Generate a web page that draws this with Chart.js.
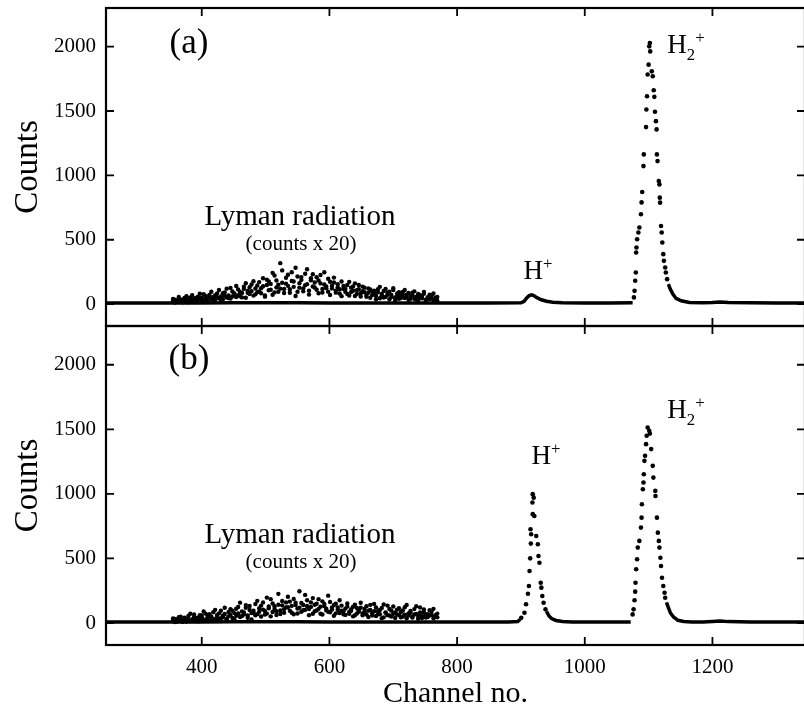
<!DOCTYPE html>
<html>
<head>
<meta charset="utf-8">
<script src="https://cdn.jsdelivr.net/npm/chart.js@4.4.0/dist/chart.umd.min.js"></script>
<style>
  html, body { margin: 0; padding: 0; background: #fff; overflow: hidden; width: 804px; height: 712px; }
  .box { position: absolute; left: 0; width: 810px; }
  #boxA { top: 0; height: 330px; }
  #boxB { top: 318px; height: 394px; }
  .lbl { position: absolute; font-family: 'Liberation Serif', 'Times New Roman', serif; color: #000;
         white-space: nowrap; transform: translate(-50%, -50%); line-height: 1; }
  .lbl sup, .lbl sub { font-size: 62%; }
</style>
</head>
<body>
<div class="box" id="boxA"><canvas id="panelA"></canvas></div>
<div class="box" id="boxB"><canvas id="panelB"></canvas></div>

<div class="lbl" style="left:189px;top:41px;font-size:35px">(a)</div>
<div class="lbl" style="left:300px;top:215px;font-size:29px">Lyman radiation</div>
<div class="lbl" style="left:301px;top:243px;font-size:21px">(counts x 20)</div>
<div class="lbl" style="left:538px;top:270px;font-size:27px">H<sup>+</sup></div>
<div class="lbl" style="left:686px;top:47px;font-size:27px">H<sub>2</sub><sup>+</sup></div>

<div class="lbl" style="left:189px;top:357px;font-size:35px">(b)</div>
<div class="lbl" style="left:300px;top:533px;font-size:29px">Lyman radiation</div>
<div class="lbl" style="left:301px;top:561px;font-size:21px">(counts x 20)</div>
<div class="lbl" style="left:546px;top:455px;font-size:27px">H<sup>+</sup></div>
<div class="lbl" style="left:686px;top:412px;font-size:27px">H<sub>2</sub><sup>+</sup></div>

<script>
const xTicks = [400, 600, 800, 1000, 1200];
const yTicks = [0, 500, 1000, 1500, 2000];

// dense baseline (drawn as a thick line), null = gap under the big peaks
const baseChA = [250,300,350,400,450,500,550,600,650,700,750,800,850,900,905,909,913,917,920,925,932,940,950,965,1000,1040,1075,1090,1131,1134,1138,1143,1151,1164,1185,1200,1212,1225,1260,1300,1345];
const baseA = [8,8,9,9,10,10,10,9,9,9,9,8,8,10,22,48,66,72,66,50,34,22,14,10,9,9,10,null,155,116,78,44,26,13,10,12,17,12,10,9,9];

const baseChB = [250,300,350,400,450,500,550,600,650,700,750,800,850,880,895,899,920,940,944,948,955,965,980,1000,1040,1072,1090,1128,1131,1134,1139,1146,1155,1168,1185,1200,1212,1225,1260,1300,1345];
const baseB = [8,8,9,9,10,10,10,9,9,9,9,8,8,8,12,30,null,90,55,35,20,12,9,8,8,9,null,160,119,80,47,21,12,9,9,12,15,11,9,8,8];

// resolved peak points
const peakChA = [1077,1078,1079,1080,1080.5,1081,1082,1084,1085.5,1088,1089,1090,1092,1092.5,1096,1096.5,1097.5,1098.5,1100,1101,1102,1102.5,1105,1106.5,1108,1109,1110,1111.5,1112.5,1113,1114,1116,1117,1117.5,1118,1119.5,1120.5,1121.5,1123,1124,1126,1127,1129];
const peakA = [52,103,181,246,401,440,504,556,595,698,790,871,1072,1163,1375,1512,1615,1783,1860,2002,2028,1963,1808,1770,1661,1610,1494,1421,1357,1163,1111,956,930,827,788,607,556,478,388,336,284,246,194];

const peakChB = [900.5,905.5,908,911,912.5,913.5,914.5,915.5,916,915,918.5,921,918,918.5,920,924,926.5,927.5,929,931,932,933.5,935.5,938.5,
  1075,1076.5,1078,1079,1079.5,1080.5,1082,1083,1085.5,1088,1089,1089.5,1091,1092,1092.5,1093.5,1094.5,1096,1097,1098.5,1101,1102,1104,1106.5,1107.5,1110.5,1110.8,1113,1114.5,1116,1117,1118.5,1119.5,1121,1123,1125,1126];
const peakB = [41,80,145,227,287,403,501,615,687,726,843,829,933,998,971,674,610,519,467,312,274,209,157,106,
  67,106,176,243,312,416,494,584,636,739,816,920,1036,1088,1152,1256,1295,1385,1450,1514,1488,1467,1347,1217,1126,1023,984,816,700,636,584,506,442,351,287,235,196];

// Lyman radiation region (counts x 20), two readings per channel
const lymanCh = [355,358,361,364,367,370,373,376,379,382,385,388,391,394,397,400,403,406,409,412,415,418,421,424,427,430,433,436,439,442,
  445,448,451,454,457,460,463,466,469,472,475,478,481,484,487,490,493,496,499,502,505,508,511,514,517,520,523,526,529,532,
  535,538,541,544,547,550,553,556,559,562,565,568,571,574,577,580,583,586,589,592,595,598,601,604,607,610,613,616,619,622,
  625,628,631,634,637,640,643,646,649,652,655,658,661,664,667,670,673,676,679,682,685,688,691,694,697,700,703,706,709,712,
  715,718,721,724,727,730,733,736,739,742,745,748,751,754,757,760,763,766,769];
const lymanA = [22,35,18,41,28,15,47,33,25,52,30,44,21,58,37, 49,26,63,40,71,35,55,29,82,46,60,38,91,52,67,
  44,98,72,55,113,61,87,136,49,104,78,152,66,121,93, 171,84,139,58,190,108,157,73,222,130,96,318,166,118,205,
  142,88,247,176,63,214,128,188,99,236,155,74,201,137,168, 112,183,226,90,152,124,197,71,143,168,105,131,82,176,118,
  95,149,67,128,104,161,78,115,59,136,92,71,122,49,98, 84,63,116,45,79,102,56,88,38,71,109,52,83,41,67,
  95,48,74,33,61,88,42,57,29,70,46,81,35,53,40, 66,31,49,27];
const lymanA2 = [40,12,29,55,19,36,24,62,14,38,70,27,48,33,80, 31,77,45,22,58,96,41,69,53,110,34,85,64,120,47,
  126,59,83,141,70,95,52,118,162,88,131,101,178,76,144, 99,124,201,67,148,176,112,243,91,183,150,120,262,86,159,
  228,115,179,134,282,96,163,210,121,147,271,104,185,232,129, 209,84,161,118,248,138,97,174,122,206,89,154,115,62,141,
  118,78,173,94,137,63,109,148,85,101,128,57,89,113,70, 104,37,92,134,66,51,118,73,97,55,124,30,62,92,48,
  72,110,56,87,41,68,99,36,78,52,63,94,28,47,74, 45,83,38,56];
const lymanB = [18,32,12,45,26,9,38,21,55,15,30,67,24,41,19, 58,28,73,36,17,49,84,31,62,25,95,44,70,33,52,
  108,39,77,56,124,47,90,66,139,58,101,28,82,147,69, 115,51,160,93,73,128,185,86,109,62,142,98,171,80,121,
  204,95,133,68,158,112,246,87,140,102,176,61,125,193,91, 150,110,72,168,131,98,212,84,120,57,149,103,78,135,92,
  63,128,85,107,52,142,74,99,118,60,88,131,47,102,76, 148,55,91,69,117,44,83,135,58,96,71,40,104,62,86,
  51,122,38,75,94,47,66,130,33,82,55,105,42,69,58, 90,36,61,44];
const lymanB2 = [35,8,27,16,50,22,41,11,30,72,20,47,36,14,60, 39,90,21,55,68,42,26,102,47,75,38,57,118,29,86,
  63,95,30,111,74,158,55,82,118,41,132,77,96,60,172, 88,135,104,66,197,115,52,152,131,92,226,70,137,108,160,
  122,166,80,187,139,74,118,155,99,218,132,108,160,72,142, 98,185,127,66,147,112,88,163,104,140,75,121,176,96,68,
  112,152,71,95,126,60,117,88,157,74,110,66,96,141,58, 92,120,67,101,38,144,79,61,109,50,128,83,66,115,45,
  97,64,140,59,80,43,108,71,55,121,39,84,66,47,99, 62,110,50,73];

const family = "'Liberation Serif', 'Times New Roman', serif";

function pts(xs, ys) {
  return xs.map((x, i) => ({ x: x, y: ys[i] }));
}

// box frame with inward ticks on all four sides
const framePlugin = {
  id: 'frame',
  afterDatasetsDraw(chart) {
    const { ctx, chartArea: a, scales: { x, y } } = chart;
    ctx.save();
    ctx.strokeStyle = '#000';
    ctx.lineWidth = 2.2;
    ctx.strokeRect(a.left, a.top, a.right - a.left, a.bottom - a.top);
    ctx.lineWidth = 1.8;
    ctx.beginPath();
    xTicks.forEach(v => {
      const px = x.getPixelForValue(v);
      ctx.moveTo(px, a.bottom); ctx.lineTo(px, a.bottom - 8);
      ctx.moveTo(px, a.top); ctx.lineTo(px, a.top + 8);
    });
    yTicks.forEach(v => {
      const py = y.getPixelForValue(v);
      ctx.moveTo(a.left, py); ctx.lineTo(a.left + 8, py);
      ctx.moveTo(a.right, py); ctx.lineTo(a.right - 8, py);
    });
    ctx.stroke();
    ctx.restore();
  }
};

function dots(data, r) {
  return { data: data, pointRadius: r, backgroundColor: '#000', borderWidth: 0 };
}

function makePanel(id, baseCh, base, peakCh, peak, cloud, cloud2, showX) {
  return new Chart(document.getElementById(id), {
    type: 'scatter',
    data: {
      datasets: [
        { type: 'line', data: pts(baseCh, base), borderColor: '#000', borderWidth: 3.5,
          pointRadius: 0, spanGaps: false, tension: 0 },
        dots(pts(lymanCh, cloud), 2.2),
        dots(pts(lymanCh, cloud2), 2.2),
        dots(pts(peakCh, peak), 2.3)
      ]
    },
    options: {
      responsive: true,
      maintainAspectRatio: false,
      animation: false,
      layout: { padding: { top: 8, right: 5, bottom: showX ? 0 : 4, left: 0 } },
      plugins: { legend: { display: false }, tooltip: { enabled: false } },
      scales: {
        x: {
          type: 'linear', min: 250, max: 1345, display: showX,
          grid: { display: false, drawTicks: false }, border: { display: false },
          afterBuildTicks: s => { s.ticks = xTicks.map(v => ({ value: v })); },
          afterFit: s => {
            if (showX) s.height = 67;
            s.paddingLeft = 0; s.paddingRight = 0;
          },
          ticks: { color: '#000', padding: 10, maxRotation: 0, font: { family: family, size: 21 },
                   callback: v => String(v) },
          title: { display: true, text: 'Channel no.', color: '#000', font: { family: family, size: 30, lineHeight: 0.9 } }
        },
        y: {
          min: -170, max: 2300,
          grid: { display: false, drawTicks: false }, border: { display: false },
          afterBuildTicks: s => { s.ticks = yTicks.map(v => ({ value: v })); },
          afterFit: s => { s.width = 106; s.paddingTop = 0; s.paddingBottom = 0; },
          ticks: { color: '#000', padding: 10, font: { family: family, size: 21 },
                   callback: v => String(v) },
          title: { display: true, text: 'Counts', color: '#000', font: { family: family, size: 33, lineHeight: 1.5 } }
        }
      }
    },
    plugins: [framePlugin]
  });
}

makePanel('panelA', baseChA, baseA, peakChA, peakA, lymanA, lymanA2, false);
makePanel('panelB', baseChB, baseB, peakChB, peakB, lymanB, lymanB2, true);
</script>
</body>
</html>
